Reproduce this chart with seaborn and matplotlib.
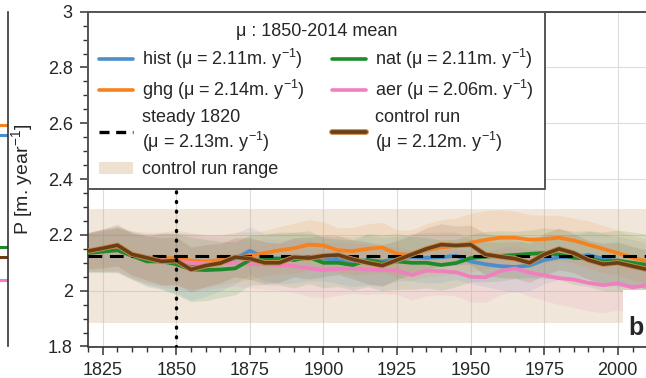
import numpy as np
import pandas as pd
import matplotlib
matplotlib.use("Agg")
import matplotlib.pyplot as plt
import seaborn as sns
import matplotlib.patheffects as pe
from matplotlib.lines import Line2D
from matplotlib.patches import Patch, Rectangle
from matplotlib.ticker import MultipleLocator, FuncFormatter
from matplotlib.font_manager import fontManager

# ---------------- data ----------------
years = [1820, 1825, 1830, 1835, 1840, 1845, 1850, 1855, 1860, 1865, 1870, 1875,
         1880, 1885, 1890, 1895, 1900, 1905, 1910, 1915, 1920, 1925, 1930, 1935,
         1940, 1945, 1950, 1955, 1960, 1965, 1970, 1975, 1980, 1985, 1990, 1995,
         2000, 2005, 2010, 2014]

hist = [2.138, 2.145, 2.150, 2.128, 2.112, 2.108, 2.100, 2.085, 2.090, 2.100, 2.115, 2.143,
        2.120, 2.115, 2.118, 2.120, 2.115, 2.110, 2.105, 2.110, 2.105, 2.115, 2.120, 2.118,
        2.120, 2.125, 2.105, 2.095, 2.088, 2.085, 2.090, 2.110, 2.120, 2.120, 2.128, 2.115,
        2.105, 2.098, 2.090, 2.085]
ghg = [2.140, 2.145, 2.150, 2.130, 2.120, 2.115, 2.118, 2.108, 2.105, 2.110, 2.120, 2.125,
       2.135, 2.145, 2.152, 2.165, 2.162, 2.145, 2.142, 2.150, 2.155, 2.132, 2.128, 2.145,
       2.155, 2.160, 2.172, 2.182, 2.190, 2.190, 2.183, 2.185, 2.190, 2.180, 2.165, 2.150,
       2.135, 2.118, 2.105, 2.100]
nat = [2.135, 2.140, 2.145, 2.125, 2.105, 2.105, 2.095, 2.076, 2.074, 2.076, 2.080, 2.110,
       2.112, 2.115, 2.110, 2.120, 2.100, 2.100, 2.092, 2.110, 2.100, 2.105, 2.100, 2.100,
       2.092, 2.099, 2.117, 2.122, 2.125, 2.128, 2.132, 2.135, 2.130, 2.118, 2.115, 2.105,
       2.108, 2.100, 2.092, 2.088]
aer = [2.140, 2.143, 2.145, 2.125, 2.115, 2.110, 2.105, 2.100, 2.098, 2.100, 2.100, 2.095,
       2.095, 2.092, 2.088, 2.080, 2.074, 2.078, 2.080, 2.076, 2.074, 2.072, 2.056, 2.072,
       2.070, 2.066, 2.050, 2.048, 2.070, 2.080, 2.065, 2.055, 2.045, 2.040, 2.028, 2.020,
       2.026, 2.012, 2.020, 2.015]
ctrl = [2.142, 2.152, 2.163, 2.130, 2.118, 2.105, 2.108, 2.076, 2.090, 2.099, 2.120, 2.115,
        2.100, 2.100, 2.120, 2.117, 2.125, 2.128, 2.112, 2.100, 2.090, 2.110, 2.130, 2.150,
        2.165, 2.162, 2.165, 2.130, 2.122, 2.115, 2.100, 2.130, 2.150, 2.135, 2.110, 2.095,
        2.100, 2.088, 2.076, 2.070]

# ensemble half-spreads
hist_sd = [0.07, 0.075, 0.08, 0.085, 0.09, 0.10, 0.11, 0.12, 0.11, 0.10, 0.09, 0.085,
           0.085, 0.09, 0.09, 0.085, 0.08, 0.085, 0.09, 0.09, 0.085, 0.08, 0.085, 0.09,
           0.09, 0.085, 0.08, 0.08, 0.085, 0.09, 0.09, 0.085, 0.08, 0.08, 0.085, 0.09,
           0.09, 0.085, 0.08, 0.08]
ghg_sd = [0.07, 0.075, 0.08, 0.085, 0.09, 0.095, 0.10, 0.10, 0.095, 0.09, 0.09, 0.085,
          0.08, 0.085, 0.09, 0.09, 0.085, 0.08, 0.085, 0.09, 0.09, 0.085, 0.09, 0.095,
          0.10, 0.10, 0.105, 0.105, 0.10, 0.095, 0.09, 0.085, 0.08, 0.08, 0.085, 0.085,
          0.08, 0.08, 0.08, 0.08]
nat_sd = [0.07, 0.075, 0.08, 0.085, 0.09, 0.10, 0.11, 0.115, 0.11, 0.10, 0.095, 0.09,
          0.09, 0.095, 0.10, 0.095, 0.09, 0.085, 0.09, 0.095, 0.10, 0.10, 0.095, 0.09,
          0.09, 0.085, 0.085, 0.09, 0.09, 0.085, 0.085, 0.09, 0.09, 0.095, 0.10, 0.105,
          0.11, 0.11, 0.11, 0.11]
aer_sd = [0.07, 0.075, 0.08, 0.085, 0.09, 0.095, 0.10, 0.10, 0.095, 0.09, 0.085, 0.085,
          0.09, 0.09, 0.095, 0.10, 0.10, 0.095, 0.09, 0.09, 0.085, 0.085, 0.09, 0.09,
          0.085, 0.085, 0.09, 0.09, 0.085, 0.08, 0.085, 0.09, 0.095, 0.10, 0.10, 0.10,
          0.095, 0.09, 0.09, 0.09]
ctrl_sd = [0.065, 0.07, 0.075, 0.075, 0.08, 0.085, 0.085, 0.08, 0.075, 0.07, 0.07, 0.075,
           0.075, 0.07, 0.07, 0.075, 0.075, 0.07, 0.07, 0.075, 0.075, 0.07, 0.07, 0.075,
           0.075, 0.07, 0.07, 0.075, 0.075, 0.07, 0.07, 0.075, 0.075, 0.07, 0.07, 0.075,
           0.075, 0.07, 0.07, 0.07]

steady_1820 = 2.125
ctrl_range = [1.886, 2.293]
range_years = [1820, 2014]
event_year = 1850

run_names = ["hist", "ghg", "aer", "nat", "control run"]
legend_means = {"hist": 2.11, "ghg": 2.14, "steady 1820": 2.13, "nat": 2.11,
                "aer": 2.06, "control run": 2.12}

# fragment of neighbouring panel (end values)
left_vals = {"ghg": 2.593, "hist": 2.558, "nat": 2.157, "control run": 2.121, "aer": 2.04}

# ---------------- style ----------------
sns.set_theme(style="ticks")
names = {f.name for f in fontManager.ttflist}
fam = [f for f in ["Liberation Sans Narrow", "Liberation Sans", "DejaVu Sans"] if f in names]
plt.rcParams["font.family"] = fam
plt.rcParams["mathtext.fontset"] = "custom"
plt.rcParams["mathtext.rm"] = fam[0]
plt.rcParams["mathtext.it"] = fam[0] + ":italic"
plt.rcParams["mathtext.bf"] = fam[0] + ":bold"

colors = {"hist": "#4a8fcb", "ghg": "#f5821f", "nat": "#1e8a2c",
          "aer": "#f07fbf", "control run": "#6a3f15"}
zord = {"hist": 3.0, "ghg": 3.1, "aer": 3.2, "nat": 3.3, "control run": 3.6}

series = {"hist": (hist, hist_sd), "ghg": (ghg, ghg_sd), "nat": (nat, nat_sd),
          "aer": (aer, aer_sd), "control run": (ctrl, ctrl_sd)}

rows = []
for r in run_names:
    vals, sd = series[r]
    for y, v, s in zip(years, vals, sd):
        rows.append({"year": y, "P": v, "sd": s, "run": r})
df = pd.DataFrame(rows)

W, H = 646, 378
fig = plt.figure(figsize=(W / 100, H / 100), dpi=100)
ax = fig.add_axes([88 / W, (H - 346.5) / H, 571 / W, 334.8 / H])

# fragment of left panel
ax0 = fig.add_axes([-60 / W, (H - 346.5) / H, 68 / W, 334.8 / H])
for k, v in left_vals.items():
    ax0.plot([0, 1], [v, v], color=colors[k], lw=2.2)
ax0.set_xlim(0, 1)
ax0.set_ylim(1.8, 3)
ax0.set_xticks([]); ax0.set_yticks([])
for s in ["left", "top", "bottom"]:
    ax0.spines[s].set_visible(False)
ax0.spines["right"].set_color("#333333")
ax0.spines["right"].set_linewidth(1.2)

# control run range band
ax.fill_between(range_years, [ctrl_range[0]] * 2, [ctrl_range[1]] * 2,
                color="#d2b48c", alpha=0.33, lw=0, zorder=1)

# envelopes
for r in run_names:
    d = df[df.run == r]
    ax.fill_between(d.year, d.P - d.sd, d.P + d.sd, color=colors[r], alpha=0.12,
                    lw=0, zorder=1.5)

# lines
for r in ["hist", "ghg", "aer", "nat"]:
    sns.lineplot(data=df[df.run == r], x="year", y="P", color=colors[r], lw=2.7,
                 ax=ax, zorder=zord[r], legend=False)
ax.axhline(steady_1820, color="black", lw=2.2, ls=(0, (4.5, 2.5)), zorder=3.5)
outline = [pe.Stroke(linewidth=3.9, foreground="#c98b4e"), pe.Normal()]
sns.lineplot(data=df[df.run == "control run"], x="year", y="P", color=colors["control run"],
             lw=2.6, ax=ax, zorder=zord["control run"], legend=False)
ax.lines[-1].set_path_effects(outline)
ax.axvline(event_year, color="black", lw=2.4, ls=(0, (0.3, 2.6)),
           dash_capstyle="round", zorder=3.7)

ax.set_xlim(1820, 2014)
ax.set_ylim(1.8, 3)
ax.xaxis.set_major_locator(MultipleLocator(25))
ax.xaxis.set_minor_locator(MultipleLocator(5))
ax.yaxis.set_major_locator(MultipleLocator(0.2))
ax.yaxis.set_minor_locator(MultipleLocator(0.05))
ax.yaxis.set_major_formatter(FuncFormatter(lambda v, p: f"{v:g}"))
ax.grid(True, which="major", color="#dcdcdc", lw=0.8)
ax.set_axisbelow(True)
ax.tick_params(axis="both", which="major", direction="out", length=6, width=1.1,
               labelsize=13, color="#333333", pad=5)
ax.tick_params(axis="both", which="minor", direction="out", length=3.5, width=1.0,
               color="#333333")
ax.set_xlabel("")
ax.set_ylabel("P [m. year$^{-1}$]", fontsize=14, labelpad=9)
for s in ["left", "bottom", "top", "right"]:
    ax.spines[s].set_color("#333333")
    ax.spines[s].set_linewidth(1.2)

def lab(name, two=False):
    mu = legend_means[name]
    sep = "\n" if two else " "
    return f"{name}{sep}(μ = {mu:.2f}m. y$^{{-1}}$)"

ctrl_handle = Line2D([], [], color=colors["control run"], lw=2.6,
                     path_effects=[pe.Stroke(linewidth=4.2, foreground="#c98b4e"), pe.Normal()])
handles = [
    Line2D([], [], color=colors["hist"], lw=2.6),
    Line2D([], [], color=colors["ghg"], lw=2.6),
    Line2D([], [], color="black", lw=2.4, ls=(0, (3, 2))),
    Patch(facecolor="#d2b48c", alpha=0.4, edgecolor="none"),
    Line2D([], [], color=colors["nat"], lw=2.6),
    Line2D([], [], color=colors["aer"], lw=2.6),
    ctrl_handle,
]
labels = [lab("hist"), lab("ghg"), lab("steady 1820", True), "control run range",
          lab("nat"), lab("aer"), lab("control run", True)]
leg = ax.legend(handles, labels, ncol=2, loc="upper left", bbox_to_anchor=(0, 1),
                borderaxespad=0, title="μ : 1850-2014 mean", title_fontsize=13,
                fontsize=13, frameon=True, fancybox=False, framealpha=1,
                edgecolor="#555555", handlelength=1.9, handletextpad=0.5,
                columnspacing=1.5, labelspacing=0.4, borderpad=0.6)
leg.get_frame().set_linewidth(1.4)
leg.set_zorder(10)

# panel letter with white backing
fig.patches.append(Rectangle((623 / W, (H - 344) / H), 40 / W, 54 / H,
                             transform=fig.transFigure, facecolor="white",
                             edgecolor="none", zorder=2))
fig.text(628 / W, (H - 335) / H, "b", fontsize=18, fontweight="bold", ha="left",
         va="baseline", family=["Liberation Sans", "DejaVu Sans"], zorder=3)

fig.savefig("out.png", dpi=100)
